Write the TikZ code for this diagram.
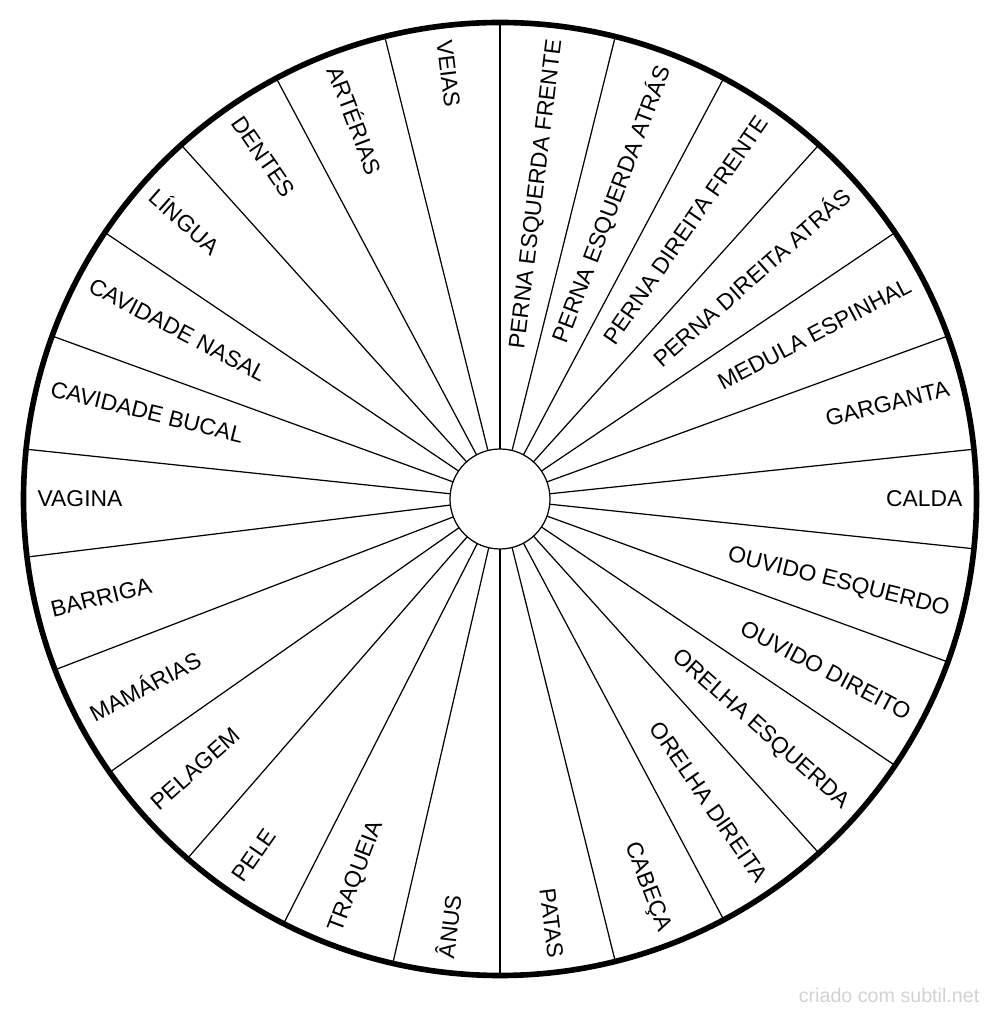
\documentclass[tikz,border=0pt]{standalone}
\usepackage{fontspec}
\setmainfont{Liberation Sans}
\usepackage{xcolor}

\begin{document}
\begin{tikzpicture}
\tikzstyle{wheel} =[circle, draw, inner sep=0pt, outer sep=0pt]
\tikzstyle{part} =[inner sep=0pt, font=\fontsize{6.5}{7.8}\selectfont]
\useasboundingbox (0,0) rectangle (10,10.16);
\node[wheel, line width=1.6pt, minimum size=9.53cm](rim) at (5,5.17){};
\node[wheel, line width=0.35pt, minimum size=1cm](hub) at (5,5.17){};

\foreach \k in {0,...,25}{
  \pgfmathsetmacro\ang{90-\k*360/26}
  \draw [line width=0.35pt] (hub.\ang) -- (rim.\ang);
}

\foreach \lab [count=\i from 0] in {PERNA ESQUERDA FRENTE, PERNA ESQUERDA ATRÁS,
  PERNA DIREITA FRENTE, PERNA DIREITA ATRÁS, MEDULA ESPINHAL, GARGANTA, CALDA,
  OUVIDO ESQUERDO, OUVIDO DIREITO, ORELHA ESQUERDA, ORELHA DIREITA, CABEÇA, PATAS,
  ÂNUS, TRAQUEIA, PELE, PELAGEM, MAMÁRIAS, BARRIGA, VAGINA, CAVIDADE BUCAL,
  CAVIDADE NASAL, LÍNGUA, DENTES, ARTÉRIAS, VEIAS}{
  \pgfmathsetmacro\mid{90-(\i+0.5)*360/26}
  \ifnum\i<13
    \node[part, anchor=east, rotate=\mid](p\i) at ([shift={(\mid:4.63)}]hub.center){\lab};
  \else
    \node[part, anchor=west, rotate=\mid+180](p\i) at ([shift={(\mid:4.63)}]hub.center){\lab};
  \fi
}

\node[text=gray!35, anchor=east, inner sep=0pt, font=\fontsize{5.6}{6.7}\selectfont](mark) at (9.80,0.21){criado com subtil.net};
\end{tikzpicture}
\end{document}
